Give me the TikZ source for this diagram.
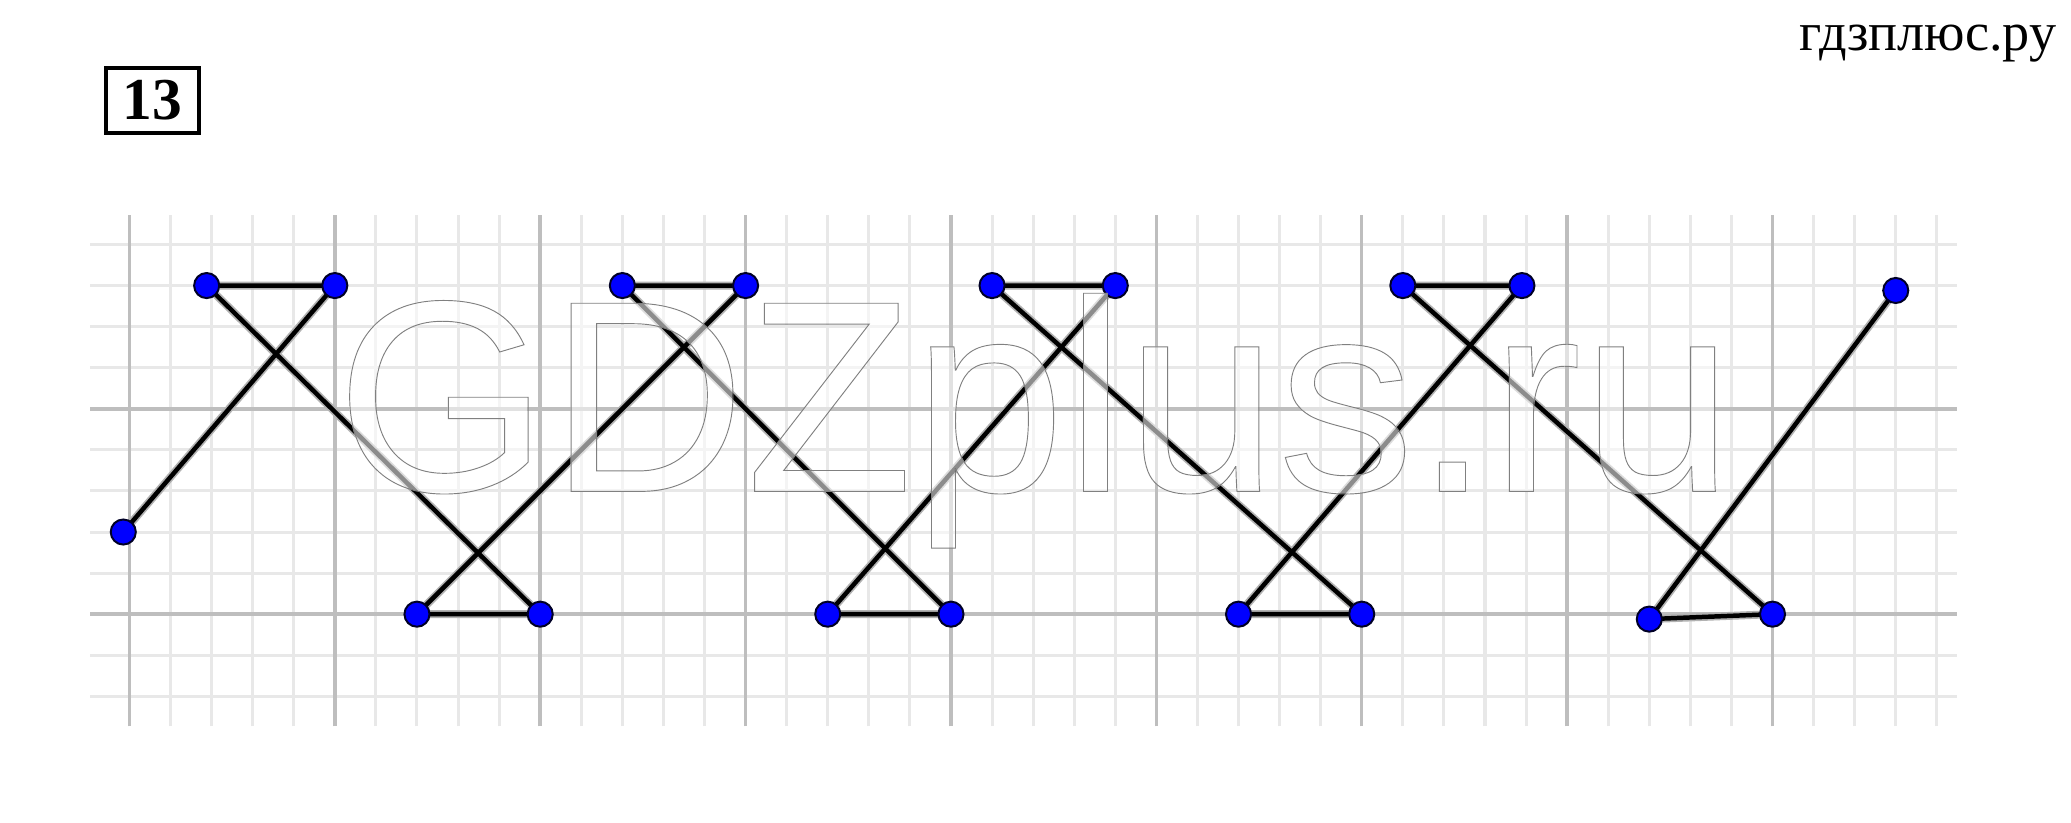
\documentclass[tikz,border=0pt]{standalone}
\usepackage{fontspec}
\setmainfont{Liberation Serif}
\newfontfamily\wmfont{Liberation Sans}
\definecolor{minorgrid}{HTML}{E8E8E8}
\definecolor{majorgrid}{HTML}{BEBEBE}
\definecolor{dotblue}{HTML}{0000FF}
\begin{document}
\begin{tikzpicture}[x=31.1pt,y=31.1pt,
  minorline/.style={draw=minorgrid, line width=2.3pt},
  majorline/.style={draw=majorgrid, line width=2.6pt},
  halo/.style={line width=6pt, black!30, line join=round, line cap=round},
  zigzag/.style={line width=3.4pt, black, line join=round, line cap=round},
  dot/.style={circle, fill=dotblue, draw=black!85!blue, line width=1.5pt, minimum size=19pt, inner sep=0pt},
  wm/.style={anchor=base west, inner sep=0pt, font=\wmfont\fontsize{207}{207}\selectfont},
  numbox/.style={draw, line width=3pt, minimum width=70pt, minimum height=49pt, inner sep=0pt, font=\bfseries\fontsize{45}{45}\selectfont},
  site/.style={anchor=base east, inner sep=0pt, font=\fontsize{41}{41}\selectfont}]
\useasboundingbox (-3.1511,-5.0836) rectangle (47.267,14.952);
\fill[white] (-3.1511,-5.0836) rectangle (47.267,14.952);
% grid
\foreach \y in {-2,-1,1,2,3,4,6,7,8,9} \draw[minorline] (-0.95,\y) -- (44.5,\y);
\foreach \x in {1,2,3,4,6,7,8,9,11,12,13,14,16,17,18,19,21,22,23,24,26,27,28,29,31,32,33,34,36,37,38,39,41,42,43,44}
  \draw[minorline] (\x,-2.73) -- (\x,9.71);
\foreach \y in {0,5} \draw[majorline] (-0.95,\y) -- (44.5,\y);
\foreach \x in {0,5,...,40} \draw[majorline] (\x,-2.73) -- (\x,9.71);
% points
\coordinate (p0) at (-0.15,2);
\coordinate (p1) at (5,8);
\coordinate (p2) at (1.88,8);
\coordinate (p3) at (10,0);
\coordinate (p4) at (7,0);
\coordinate (p5) at (15,8);
\coordinate (p6) at (12,8);
\coordinate (p7) at (20,0);
\coordinate (p8) at (17,0);
\coordinate (p9) at (24,8);
\coordinate (p10) at (21,8);
\coordinate (p11) at (30,0);
\coordinate (p12) at (27,0);
\coordinate (p13) at (33.9,8);
\coordinate (p14) at (31,8);
\coordinate (p15) at (40,0);
\coordinate (p16) at (37,-0.12);
\coordinate (p17) at (43,7.88);
\draw[halo] (p0) -- (p1) -- (p2) -- (p3) -- (p4) -- (p5) -- (p6) -- (p7) -- (p8) -- (p9) -- (p10) -- (p11) -- (p12) -- (p13) -- (p14) -- (p15) -- (p16) -- (p17);
\draw[zigzag] (p0) -- (p1) -- (p2) -- (p3) -- (p4) -- (p5) -- (p6) -- (p7) -- (p8) -- (p9) -- (p10) -- (p11) -- (p12) -- (p13) -- (p14) -- (p15) -- (p16) -- (p17);
\foreach \i in {0,...,17} \node[dot] (d\i) at (p\i) {};
% watermark
\node[wm, text=white, text opacity=0.55] (wmfill) at (5.02,2.99) {GDZplus.ru};
\node[wm, text=black!50] (wmline) at (5.02,2.99) {\special{pdf:literal direct 1 Tr 0.7 w}GDZplus.ru\special{pdf:literal direct 0 Tr}};
% labels
\node[numbox] (num) at (0.563,12.508) {13};
\node[site] (sitename) at (46.91,13.73) {гдзплюс.ру};
\end{tikzpicture}
\end{document}
